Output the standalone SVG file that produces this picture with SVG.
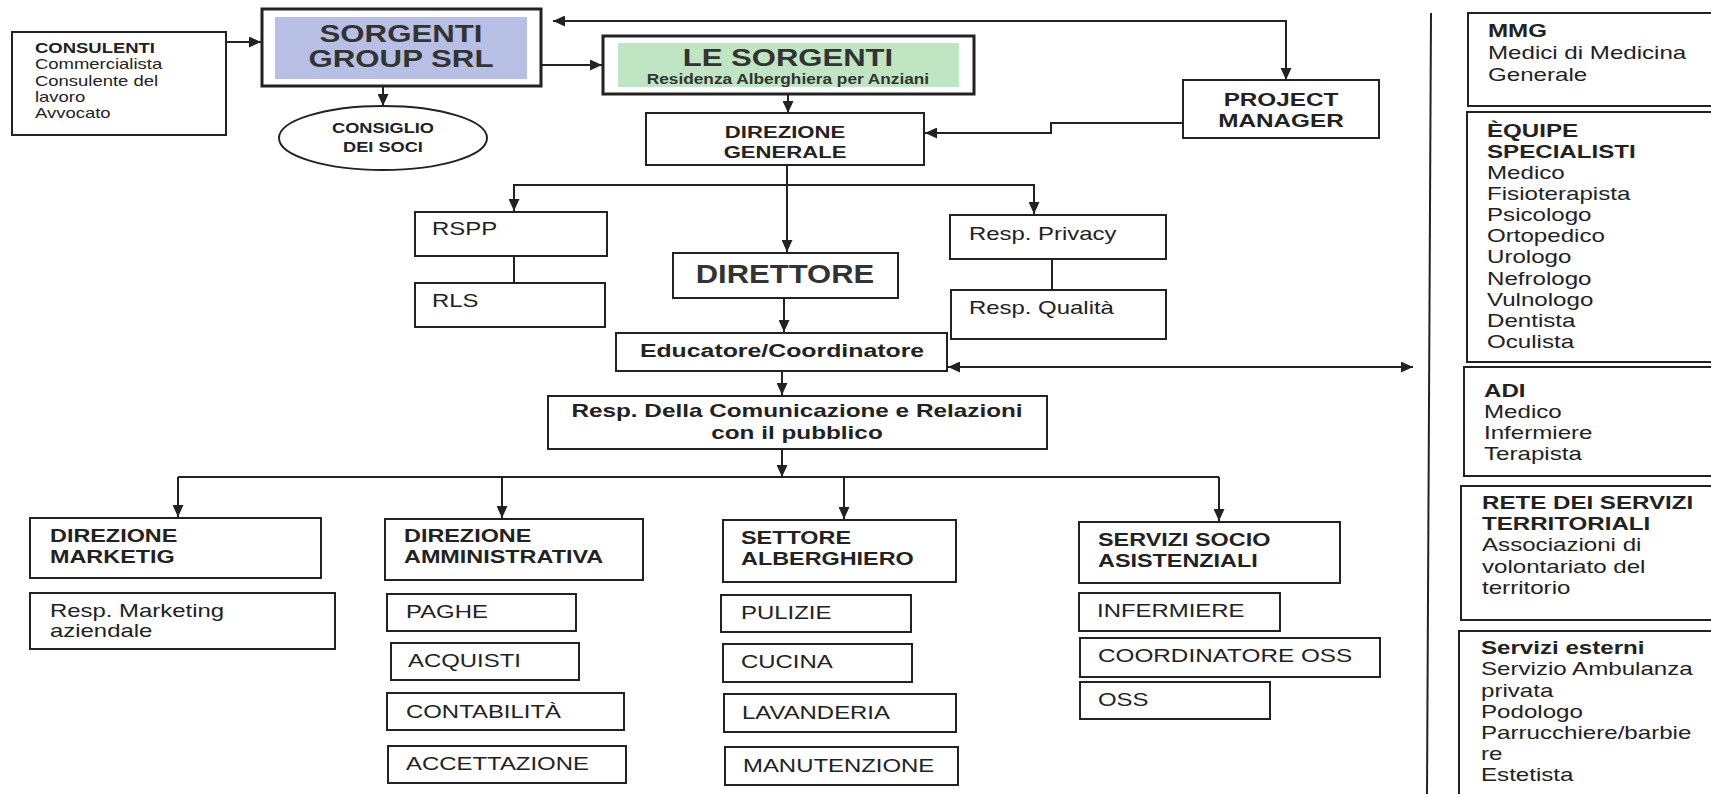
<svg xmlns="http://www.w3.org/2000/svg" width="1711" height="794" viewBox="0 0 1711 794">
<style>
.bx{fill:#fff;stroke:#222;stroke-width:2}
.bx3{fill:#fff;stroke:#222;stroke-width:3}
.t{font-family:"Liberation Sans",Arial,sans-serif;fill:#222;font-size:18px}
.b{font-weight:bold}
.c{text-anchor:middle}
.ln{fill:none;stroke:#222;stroke-width:2}
.ar{fill:none;stroke:#222;stroke-width:2;marker-end:url(#ah)}
.ar2{fill:none;stroke:#222;stroke-width:2;marker-end:url(#ah);marker-start:url(#ah)}
</style>
<defs>
<marker id="ah" markerUnits="userSpaceOnUse" markerWidth="13" markerHeight="11" refX="12" refY="5.5" orient="auto-start-reverse">
<path d="M0,0 L12,5.5 L0,11 z" fill="#222"/>
</marker>
</defs>
<rect width="1711" height="794" fill="#fff"/>

<g id="connectors">
<path class="ar" d="M225,42 H261"/>
<path class="ar" d="M383,86 V106"/>
<path class="ar2" d="M553,21 H1286 V80"/>
<path class="ar" d="M541,65 H602"/>
<path class="ar" d="M788,94 V113"/>
<path class="ar" d="M1183,123 H1051 V133 H925"/>
<path class="ar" d="M787,165 V252"/>
<path class="ar" d="M787,185 H514 V211"/>
<path class="ar" d="M787,185 H1034 V214"/>
<path class="ln" d="M514,256 V283"/>
<path class="ln" d="M1052,259 V290"/>
<path class="ar" d="M784,298 V332"/>
<path class="ar2" d="M948,367 H1413"/>
<path class="ar" d="M782,371 V395"/>
<path class="ar" d="M782,449 V477"/>
<path class="ln" d="M178,477 H1219"/>
<path class="ar" d="M178,477 V517"/>
<path class="ar" d="M502,477 V518"/>
<path class="ar" d="M844,477 V519"/>
<path class="ar" d="M1219,477 V521"/>
<path class="ln" d="M1431,13 L1427,794"/>
</g>

<g id="consulenti">
<rect class="bx" x="12" y="32" width="214" height="103"/>
<text class="t" style="font-size:14px" transform="translate(35,53) scale(1.32,1)"><tspan class="b" x="0" y="0">CONSULENTI</tspan><tspan x="0" y="16.3">Commercialista</tspan><tspan x="0" y="32.6">Consulente del</tspan><tspan x="0" y="48.9">lavoro</tspan><tspan x="0" y="65.2">Avvocato</tspan></text>
</g>

<g id="sorgenti-group">
<rect class="bx3" x="262" y="9" width="279" height="77"/>
<rect x="275" y="17" width="252" height="62" fill="#b7c0e4"/>
<text class="t b c" style="font-size:24px;fill:#333" transform="translate(401,42) scale(1.3,1)"><tspan x="0" y="0">SORGENTI</tspan><tspan x="0" y="25">GROUP SRL</tspan></text>
</g>

<g id="consiglio">
<ellipse cx="383" cy="138" rx="104" ry="32" fill="#fff" stroke="#222" stroke-width="2"/>
<text class="t b c" style="font-size:14px" transform="translate(383,133) scale(1.3,1)"><tspan x="0" y="0">CONSIGLIO</tspan><tspan x="0" y="19">DEI SOCI</tspan></text>
</g>

<g id="le-sorgenti">
<rect class="bx3" x="603" y="36" width="371" height="58"/>
<rect x="618" y="43" width="341" height="44" fill="#bfe5c3"/>
<text class="t b c" style="font-size:23px;fill:#333" transform="translate(788,66) scale(1.35,1)">LE SORGENTI</text>
<text class="t b c" style="font-size:15px;fill:#333" transform="translate(788,84) scale(1.15,1)">Residenza Alberghiera per Anziani</text>
</g>

<g id="project-manager">
<rect class="bx" x="1183" y="80" width="196" height="58"/>
<text class="t b c" transform="translate(1281,106) scale(1.35,1)"><tspan x="0" y="0">PROJECT</tspan><tspan x="0" y="21">MANAGER</tspan></text>
</g>

<g id="direzione-generale">
<rect class="bx" x="646" y="113" width="278" height="52"/>
<text class="t b c" style="font-size:17px" transform="translate(785,138) scale(1.3,1)"><tspan x="0" y="0">DIREZIONE</tspan><tspan x="0" y="20">GENERALE</tspan></text>
</g>

<g id="rspp">
<rect class="bx" x="415" y="212" width="192" height="44"/>
<text class="t" transform="translate(432,235) scale(1.33,1)">RSPP</text>
</g>
<g id="rls">
<rect class="bx" x="415" y="283" width="190" height="44"/>
<text class="t" transform="translate(432,307) scale(1.33,1)">RLS</text>
</g>
<g id="resp-privacy">
<rect class="bx" x="950" y="215" width="216" height="44"/>
<text class="t" transform="translate(969,240) scale(1.33,1)">Resp. Privacy</text>
</g>
<g id="resp-qualita">
<rect class="bx" x="951" y="290" width="215" height="49"/>
<text class="t" transform="translate(969,314) scale(1.33,1)">Resp. Qualità</text>
</g>

<g id="direttore">
<rect class="bx" x="673" y="253" width="225" height="45"/>
<text class="t b c" style="font-size:25px;fill:#333" transform="translate(785,283) scale(1.24,1)">DIRETTORE</text>
</g>

<g id="educatore">
<rect class="bx" x="616" y="333" width="331" height="38"/>
<text class="t b c" transform="translate(782,357) scale(1.38,1)">Educatore/Coordinatore</text>
</g>

<g id="resp-comunicazione">
<rect class="bx" x="548" y="396" width="499" height="53"/>
<text class="t b c" style="font-size:19px" transform="translate(797,417) scale(1.28,1)"><tspan x="0" y="0">Resp. Della Comunicazione e Relazioni</tspan><tspan x="0" y="22">con il pubblico</tspan></text>
</g>

<g id="dir-marketing">
<rect class="bx" x="30" y="518" width="291" height="60"/>
<text class="t b" transform="translate(50,542) scale(1.3,1)"><tspan x="0" y="0">DIREZIONE</tspan><tspan x="0" y="21">MARKETIG</tspan></text>
</g>
<g id="resp-marketing">
<rect class="bx" x="30" y="593" width="305" height="56"/>
<text class="t" transform="translate(50,617) scale(1.33,1)"><tspan x="0" y="0">Resp. Marketing</tspan><tspan x="0" y="20">aziendale</tspan></text>
</g>

<g id="dir-amministrativa">
<rect class="bx" x="385" y="519" width="258" height="61"/>
<text class="t b" transform="translate(404,542) scale(1.3,1)"><tspan x="0" y="0">DIREZIONE</tspan><tspan x="0" y="21">AMMINISTRATIVA</tspan></text>
</g>
<g id="paghe">
<rect class="bx" x="387" y="594" width="189" height="37"/>
<text class="t" transform="translate(406,618) scale(1.33,1)">PAGHE</text>
</g>
<g id="acquisti">
<rect class="bx" x="391" y="643" width="188" height="37"/>
<text class="t" transform="translate(408,667) scale(1.33,1)">ACQUISTI</text>
</g>
<g id="contabilita">
<rect class="bx" x="387" y="693" width="237" height="37"/>
<text class="t" transform="translate(406,718) scale(1.33,1)">CONTABILITÀ</text>
</g>
<g id="accettazione">
<rect class="bx" x="388" y="746" width="238" height="37"/>
<text class="t" transform="translate(406,770) scale(1.33,1)">ACCETTAZIONE</text>
</g>

<g id="settore-alberghiero">
<rect class="bx" x="723" y="520" width="233" height="62"/>
<text class="t b" transform="translate(741,544) scale(1.3,1)"><tspan x="0" y="0">SETTORE</tspan><tspan x="0" y="21">ALBERGHIERO</tspan></text>
</g>
<g id="pulizie">
<rect class="bx" x="721" y="595" width="190" height="37"/>
<text class="t" transform="translate(741,619) scale(1.33,1)">PULIZIE</text>
</g>
<g id="cucina">
<rect class="bx" x="723" y="644" width="189" height="38"/>
<text class="t" transform="translate(741,668) scale(1.33,1)">CUCINA</text>
</g>
<g id="lavanderia">
<rect class="bx" x="724" y="694" width="232" height="38"/>
<text class="t" transform="translate(742,719) scale(1.33,1)">LAVANDERIA</text>
</g>
<g id="manutenzione">
<rect class="bx" x="725" y="747" width="233" height="38"/>
<text class="t" transform="translate(743,772) scale(1.33,1)">MANUTENZIONE</text>
</g>

<g id="servizi-socio">
<rect class="bx" x="1079" y="522" width="261" height="61"/>
<text class="t b" transform="translate(1098,546) scale(1.3,1)"><tspan x="0" y="0">SERVIZI SOCIO</tspan><tspan x="0" y="21">ASISTENZIALI</tspan></text>
</g>
<g id="infermiere">
<rect class="bx" x="1079" y="593" width="201" height="38"/>
<text class="t" transform="translate(1097,617) scale(1.33,1)">INFERMIERE</text>
</g>
<g id="coordinatore-oss">
<rect class="bx" x="1080" y="638" width="300" height="39"/>
<text class="t" transform="translate(1098,662) scale(1.35,1)">COORDINATORE OSS</text>
</g>
<g id="oss">
<rect class="bx" x="1080" y="682" width="190" height="37"/>
<text class="t" transform="translate(1098,706) scale(1.33,1)">OSS</text>
</g>

<g id="mmg">
<rect class="bx" x="1468" y="13" width="260" height="93"/>
<text class="t" transform="translate(1488,37) scale(1.34,1)"><tspan class="b" x="0" y="0">MMG</tspan><tspan x="0" y="22">Medici di Medicina</tspan><tspan x="0" y="44">Generale</tspan></text>
</g>
<g id="equipe">
<rect class="bx" x="1467" y="112" width="260" height="250"/>
<text class="t" transform="translate(1487,137) scale(1.34,1)"><tspan class="b" x="0" y="0">ÈQUIPE</tspan><tspan class="b" x="0" y="21">SPECIALISTI</tspan><tspan x="0" y="42">Medico</tspan><tspan x="0" y="63">Fisioterapista</tspan><tspan x="0" y="84">Psicologo</tspan><tspan x="0" y="105">Ortopedico</tspan><tspan x="0" y="126">Urologo</tspan><tspan x="0" y="148">Nefrologo</tspan><tspan x="0" y="169">Vulnologo</tspan><tspan x="0" y="190">Dentista</tspan><tspan x="0" y="211">Oculista</tspan></text>
</g>
<g id="adi">
<rect class="bx" x="1464" y="367" width="262" height="109"/>
<text class="t" transform="translate(1484,397) scale(1.34,1)"><tspan class="b" x="0" y="0">ADI</tspan><tspan x="0" y="21">Medico</tspan><tspan x="0" y="42">Infermiere</tspan><tspan x="0" y="63">Terapista</tspan></text>
</g>
<g id="rete-servizi">
<rect class="bx" x="1461" y="486" width="265" height="134"/>
<text class="t" transform="translate(1482,509) scale(1.34,1)"><tspan class="b" x="0" y="0">RETE DEI SERVIZI</tspan><tspan class="b" x="0" y="21">TERRITORIALI</tspan><tspan x="0" y="42">Associazioni di</tspan><tspan x="0" y="64">volontariato del</tspan><tspan x="0" y="85">territorio</tspan></text>
</g>
<g id="servizi-esterni">
<rect class="bx" x="1459" y="631" width="270" height="200"/>
<text class="t" transform="translate(1481,654) scale(1.34,1)"><tspan class="b" x="0" y="0">Servizi esterni</tspan><tspan x="0" y="21">Servizio Ambulanza</tspan><tspan x="0" y="43">privata</tspan><tspan x="0" y="64">Podologo</tspan><tspan x="0" y="85">Parrucchiere/barbie</tspan><tspan x="0" y="106">re</tspan><tspan x="0" y="127">Estetista</tspan></text>
</g>
</svg>
